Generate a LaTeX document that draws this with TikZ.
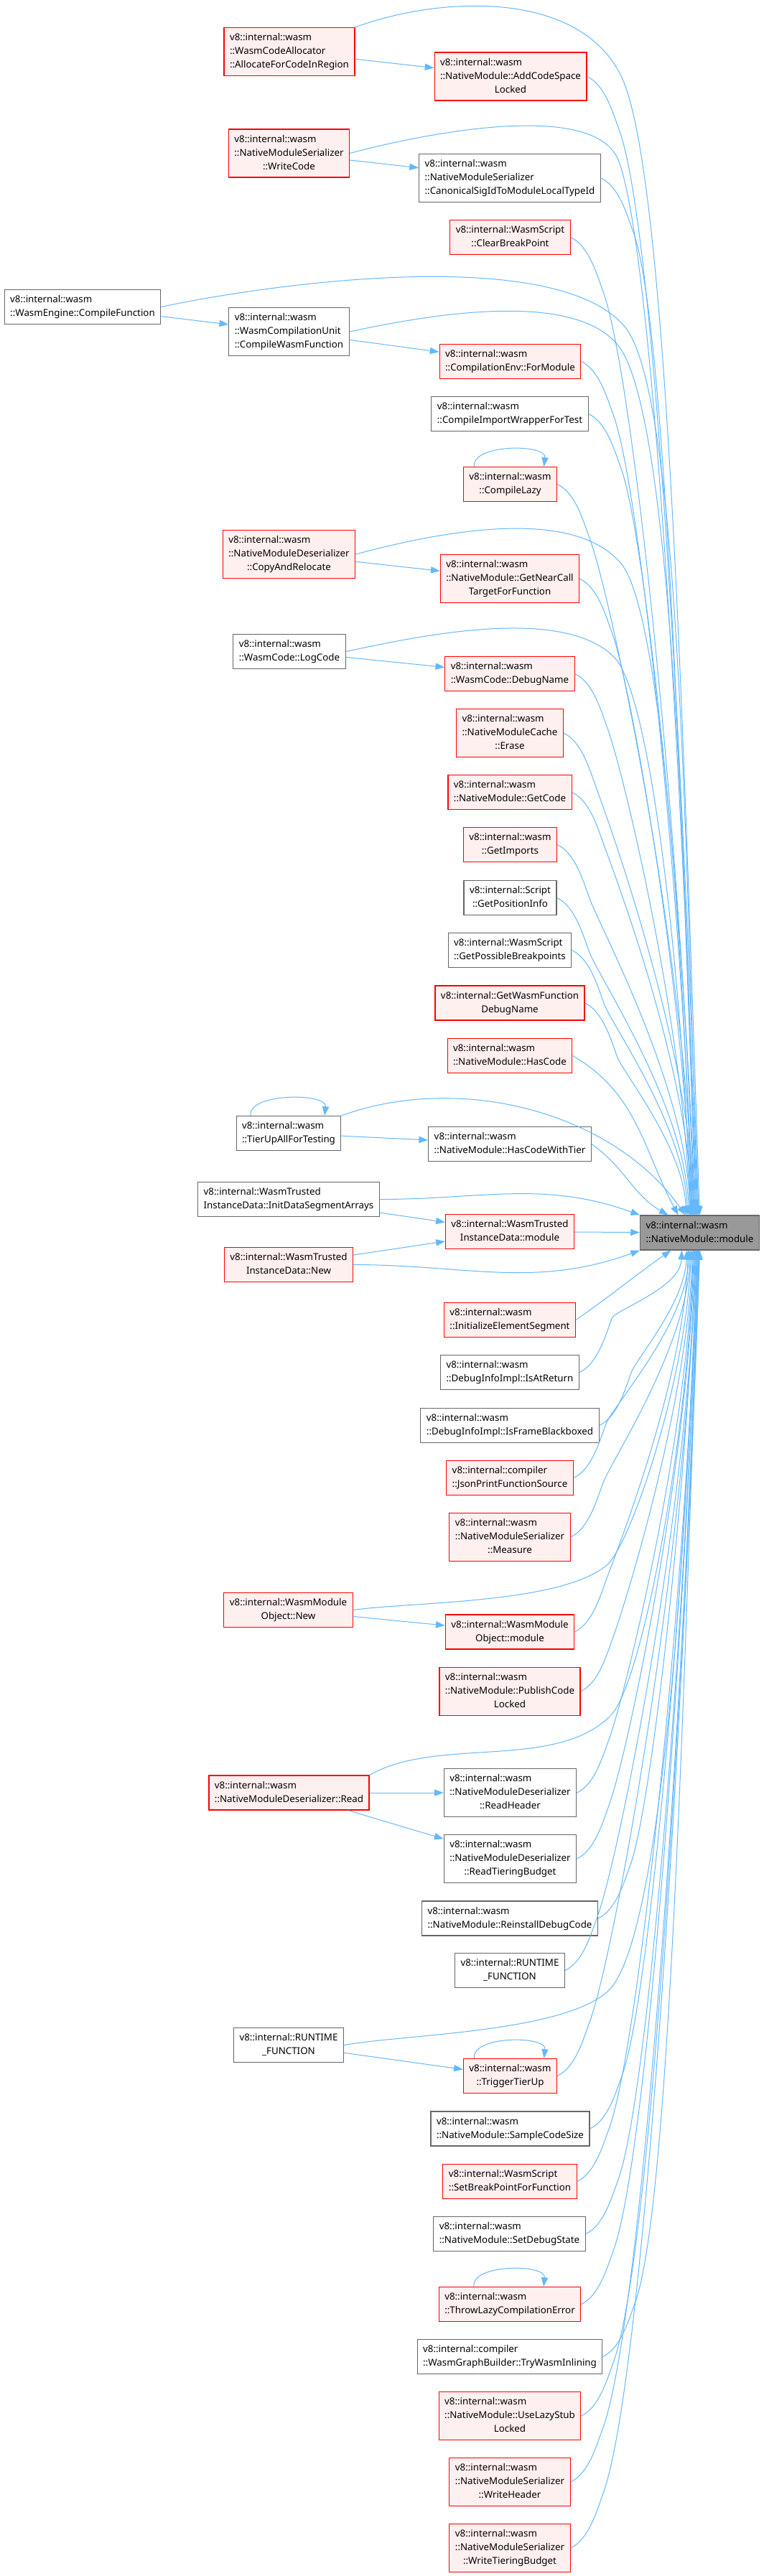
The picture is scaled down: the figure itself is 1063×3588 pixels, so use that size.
\documentclass[tikz,border=0pt]{standalone}
\usepackage{fontspec}
\newfontfamily\callfont{Noto Sans}
\usetikzlibrary{arrows.meta}
\definecolor{callblue}{HTML}{63B8FF}
\definecolor{redfill}{HTML}{FFF0F0}
\definecolor{boxgray}{HTML}{666666}
\definecolor{mainfill}{HTML}{999999}
% left aligned lines, last line centred
\newcommand{\fnlbl}[2]{\begin{tabular}{@{}l@{}}#1\\\multicolumn{1}{@{}c@{}}{#2}\end{tabular}}

\begin{document}
\begin{tikzpicture}[x=0.25pt, y=0.25pt,
		fnbox/.style={rectangle, inner xsep=2pt, inner ysep=1.25pt, line width=0.28pt, font={\callfont\fontsize{3.33}{4.75}\selectfont}},
		redfn/.style={fnbox, draw=red, fill=redfill},
		grayfn/.style={fnbox, draw=boxgray, fill=white},
		mainfn/.style={fnbox, draw=boxgray, fill=mainfill},
		callline/.style={draw=callblue, line width=0.25pt, -{Triangle[length=3.2pt, width=2.3pt]}},
		drop/.style={out=#1, in=92, out looseness=0.25, in looseness=1},
		climb/.style={out=#1, in=-92, out looseness=0.25, in looseness=1},
	]
	\path[use as bounding box, fill=white] (0,0) rectangle (1063,-3588);

	% called function
	\node[mainfn] (mainnode) at (974.5,-1717) {\fnlbl{v8::internal::wasm}{::NativeModule::module}};

	% callers, left columns
	\node[redfn] (allocregion) at (403,-72) {\fnlbl{v8::internal::wasm\\::WasmCodeAllocator}{::AllocateForCodeInRegion}};
	\node[redfn] (writecode) at (402.5,-213.5) {\fnlbl{v8::internal::wasm\\::NativeModuleSerializer}{::WriteCode}};
	\node[grayfn] (compilefn) at (115,-427.5) {\fnlbl{v8::internal::wasm}{::WasmEngine::CompileFunction}};
	\node[grayfn] (wasmcompile) at (402.5,-462) {\fnlbl{v8::internal::wasm\\::WasmCompilationUnit}{::CompileWasmFunction}};
	\node[redfn] (copyreloc) at (402.5,-772) {\fnlbl{v8::internal::wasm\\::NativeModuleDeserializer}{::CopyAndRelocate}};
	\node[grayfn] (logcode) at (403,-907.5) {\fnlbl{v8::internal::wasm}{::WasmCode::LogCode}};
	\node[grayfn] (tierupall) at (402,-1578.5) {\fnlbl{v8::internal::wasm}{::TierUpAllForTesting}};
	\node[grayfn] (initdata) at (402,-1670.5) {\fnlbl{v8::internal::WasmTrusted}{InstanceData::InitDataSegmentArrays}};
	\node[redfn] (wtidnew) at (402,-1761.5) {\fnlbl{v8::internal::WasmTrusted}{InstanceData::New}};
	\node[redfn] (wmonew) at (401.5,-2242.5) {\fnlbl{v8::internal::WasmModule}{Object::New}};
	\node[redfn] (nmdread) at (402.5,-2497) {\fnlbl{v8::internal::wasm}{::NativeModuleDeserializer::Read}};
	\node[grayfn] (runtimeleft) at (402,-2848.5) {\fnlbl{v8::internal::RUNTIME}{\_FUNCTION}};

	% callers, middle column
	\node[redfn] (addcodespace) at (711,-106.5) {\fnlbl{v8::internal::wasm\\::NativeModule::AddCodeSpace}{Locked}};
	\node[grayfn] (canonsig) at (710,-248) {\fnlbl{v8::internal::wasm\\::NativeModuleSerializer}{::CanonicalSigIdToModuleLocalTypeId}};
	\node[redfn] (clearbp) at (710.5,-330.5) {\fnlbl{v8::internal::WasmScript}{::ClearBreakPoint}};
	\node[redfn] (formodule) at (710.5,-503.5) {\fnlbl{v8::internal::wasm}{::CompilationEnv::ForModule}};
	\node[grayfn] (importwrapper) at (710,-576.5) {\fnlbl{v8::internal::wasm}{::CompileImportWrapperForTest}};
	\node[redfn] (compilelazy) at (710.5,-674.5) {\fnlbl{v8::internal::wasm}{::CompileLazy}};
	\node[redfn] (nearcall) at (710,-806) {\fnlbl{v8::internal::wasm\\::NativeModule::GetNearCall}{TargetForFunction}};
	\node[redfn] (debugname) at (710,-938.5) {\fnlbl{v8::internal::wasm}{::WasmCode::DebugName}};
	\node[redfn] (cacheerase) at (710,-1021) {\fnlbl{v8::internal::wasm\\::NativeModuleCache}{::Erase}};
	\node[redfn] (getcode) at (710,-1103.5) {\fnlbl{v8::internal::wasm}{::NativeModule::GetCode}};
	\node[redfn] (getimports) at (710.5,-1176.5) {\fnlbl{v8::internal::wasm}{::GetImports}};
	\node[grayfn] (positioninfo) at (710.5,-1250.5) {\fnlbl{v8::internal::Script}{::GetPositionInfo}};
	\node[grayfn] (possiblebp) at (710,-1323.5) {\fnlbl{v8::internal::WasmScript}{::GetPossibleBreakpoints}};
	\node[redfn] (fndebugname) at (710,-1397) {\fnlbl{v8::internal::GetWasmFunction}{DebugName}};
	\node[redfn] (hascode) at (710,-1470.5) {\fnlbl{v8::internal::wasm}{::NativeModule::HasCode}};
	\node[grayfn] (hascodetier) at (710,-1593.5) {\fnlbl{v8::internal::wasm}{::NativeModule::HasCodeWithTier}};
	\node[redfn] (wtidmodule) at (710,-1715.5) {\fnlbl{v8::internal::WasmTrusted}{InstanceData::module}};
	\node[redfn] (initelem) at (710,-1838.5) {\fnlbl{v8::internal::wasm}{::InitializeElementSegment}};
	\node[grayfn] (isatreturn) at (710,-1911.5) {\fnlbl{v8::internal::wasm}{::DebugInfoImpl::IsAtReturn}};
	\node[grayfn] (blackboxed) at (710,-1985.5) {\fnlbl{v8::internal::wasm}{::DebugInfoImpl::IsFrameBlackboxed}};
	\node[redfn] (jsonsrc) at (710,-2058.5) {\fnlbl{v8::internal::compiler}{::JsonPrintFunctionSource}};
	\node[redfn] (measure) at (710,-2141) {\fnlbl{v8::internal::wasm\\::NativeModuleSerializer}{::Measure}};
	\node[redfn] (wmomodule) at (710,-2273) {\fnlbl{v8::internal::WasmModule}{Object::module}};
	\node[redfn] (publishcode) at (710,-2356) {\fnlbl{v8::internal::wasm\\::NativeModule::PublishCode}{Locked}};
	\node[grayfn] (readheader) at (710.5,-2497) {\fnlbl{v8::internal::wasm\\::NativeModuleDeserializer}{::ReadHeader}};
	\node[grayfn] (readbudget) at (710.5,-2589) {\fnlbl{v8::internal::wasm\\::NativeModuleDeserializer}{::ReadTieringBudget}};
	\node[grayfn] (reinstall) at (710,-2672) {\fnlbl{v8::internal::wasm}{::NativeModule::ReinstallDebugCode}};
	\node[grayfn] (runtimeright) at (710,-2744.5) {\fnlbl{v8::internal::RUNTIME}{\_FUNCTION}};
	\node[redfn] (triggertierup) at (710.5,-2891.5) {\fnlbl{v8::internal::wasm}{::TriggerTierUp}};
	\node[grayfn] (samplesize) at (710.5,-2965) {\fnlbl{v8::internal::wasm}{::NativeModule::SampleCodeSize}};
	\node[redfn] (setbp) at (710,-3038.5) {\fnlbl{v8::internal::WasmScript}{::SetBreakPointForFunction}};
	\node[grayfn] (setdebug) at (709.5,-3111.5) {\fnlbl{v8::internal::wasm}{::NativeModule::SetDebugState}};
	\node[redfn] (throwlazy) at (710,-3209.5) {\fnlbl{v8::internal::wasm}{::ThrowLazyCompilationError}};
	\node[grayfn] (trywasm) at (710,-3282.5) {\fnlbl{v8::internal::compiler}{::WasmGraphBuilder::TryWasmInlining}};
	\node[redfn] (uselazystub) at (710,-3365) {\fnlbl{v8::internal::wasm\\::NativeModule::UseLazyStub}{Locked}};
	\node[redfn] (writeheader) at (710,-3457) {\fnlbl{v8::internal::wasm\\::NativeModuleSerializer}{::WriteHeader}};
	\node[redfn] (writebudget) at (710,-3549) {\fnlbl{v8::internal::wasm\\::NativeModuleSerializer}{::WriteTieringBudget}};

	% short calls between callers
	\draw[callline] (allocregion) -- (addcodespace);
	\draw[callline] (writecode) -- (canonsig);
	\draw[callline] (compilefn) -- (wasmcompile);
	\draw[callline] (wasmcompile) -- (formodule);
	\draw[callline] (copyreloc) -- (nearcall);
	\draw[callline] (logcode) -- (debugname);
	\draw[callline] (tierupall) -- (hascodetier);
	\draw[callline] (initdata) -- (wtidmodule);
	\draw[callline] (wtidnew) -- (wtidmodule);
	\draw[callline] (wtidmodule) -- (mainnode);
	\draw[callline] (wmonew) -- (wmomodule);
	\draw[callline] (nmdread) -- (readheader);
	\draw[callline] (nmdread) -- (readbudget);
	\draw[callline] (runtimeleft) -- (triggertierup);

	% recursive calls
	\draw[callline] ([shift={(-50,0)}]compilelazy.north) .. controls +(-4,32) and +(4,32) .. ([shift={(47,0)}]compilelazy.north);
	\draw[callline] ([shift={(-53,0)}]tierupall.north) .. controls +(-4,32) and +(4,32) .. ([shift={(50,0)}]tierupall.north);
	\draw[callline] ([shift={(-50,0)}]triggertierup.north) .. controls +(-4,32) and +(4,32) .. ([shift={(47,0)}]triggertierup.north);
	\draw[callline] ([shift={(-50,0)}]throwlazy.north) .. controls +(-4,32) and +(4,32) .. ([shift={(47,0)}]throwlazy.north);

	% long calls from above
	\draw[callline] (allocregion.north east) to[out=20,in=115,looseness=0.9] (866,-108) to[drop=-65] (mainnode.north);
	\draw[callline] (writecode.east) to[out=15,in=110,looseness=0.65] (862,-225) to[drop=-70] ([shift={(-3.5,0)}]mainnode.north);
	\draw[callline] (compilefn.east) to[out=12,in=130,looseness=0.6] (870,-455) to[drop=-50] ([shift={(-2.5,0)}]mainnode.north);
	\draw[callline] (wasmcompile.east) to[out=12,in=130,looseness=0.7] (860,-480) to[drop=-50] ([shift={(-4.5,0)}]mainnode.north);
	\draw[callline] (copyreloc.east) to[out=15,in=130,looseness=0.75] (865,-785) to[drop=-50] ([shift={(-10.5,0)}]mainnode.north);
	\draw[callline] (logcode.east) to[out=12,in=135,looseness=0.7] (855,-915) to[drop=-45] ([shift={(-12.5,0)}]mainnode.north);
	\draw[callline] (tierupall.north east) to[out=20,in=125,looseness=0.9] ([shift={(-20,0)}]mainnode.north);

	\draw[callline] (addcodespace.east) to[out=-25,in=110,looseness=0.8] ++(45,-75) to[drop=-70] ([shift={(-1.5,0)}]mainnode.north);
	\draw[callline] (canonsig.east) to[out=-25,in=110,looseness=0.8] ++(45,-75) to[drop=-70] ([shift={(-5.5,0)}]mainnode.north);
	\draw[callline] (clearbp.east) to[out=-25,in=110,looseness=0.8] ++(45,-75) to[drop=-70] ([shift={(-7.5,0)}]mainnode.north);
	\draw[callline] (formodule.east) to[out=-25,in=110,looseness=0.8] ++(45,-75) to[drop=-70] ([shift={(-9.5,0)}]mainnode.north);
	\draw[callline] (importwrapper.east) to[out=-25,in=110,looseness=0.8] ++(45,-75) to[drop=-70] ([shift={(-6.5,0)}]mainnode.north);
	\draw[callline] (compilelazy.east) to[out=-25,in=110,looseness=0.8] ++(45,-75) to[drop=-70] ([shift={(-8.5,0)}]mainnode.north);
	\draw[callline] (nearcall.east) to[out=-25,in=110,looseness=0.8] ++(45,-75) to[drop=-70] ([shift={(-11.5,0)}]mainnode.north);
	\draw[callline] (debugname.east) to[out=-25,in=110,looseness=0.8] ++(45,-75) to[drop=-70] ([shift={(-13.5,0)}]mainnode.north);
	\draw[callline] (cacheerase.east) to[out=-25,in=110,looseness=0.8] ++(45,-75) to[drop=-70] ([shift={(-7,0)}]mainnode.north);
	\draw[callline] (getcode.east) to[out=-25,in=110,looseness=0.8] ++(45,-75) to[drop=-70] ([shift={(-10,0)}]mainnode.north);
	\draw[callline] (getimports.east) to[out=-25,in=110,looseness=0.8] ++(45,-75) to[drop=-70] ([shift={(-13,0)}]mainnode.north);
	\draw[callline] (positioninfo.east) to[out=-25,in=110,looseness=0.8] ++(45,-75) to[drop=-70] ([shift={(-15,0)}]mainnode.north);
	\draw[callline] (possiblebp.east) to[out=-25,in=110,looseness=0.8] ++(45,-75) to[drop=-70] ([shift={(-17,0)}]mainnode.north);
	\draw[callline] (fndebugname.east) to[out=-25,in=110,looseness=0.8] ++(45,-75) to[drop=-70] ([shift={(-19,0)}]mainnode.north);
	\draw[callline] (hascode.east) to[out=-30,in=118] ([shift={(-30,0)}]mainnode.north);
	\draw[callline] (hascodetier.east) to[out=-35,in=150] ([shift={(-44,0)}]mainnode.north);

	% calls from beside
	\draw[callline] (initdata.east) to[out=0,in=160] (mainnode.north west);
	\draw[callline] (wtidnew.east) to[out=0,in=-160] (mainnode.south west);

	% long calls from below
	\draw[callline] (wmonew.east) to[out=8,in=-140,looseness=0.6] (845,-2180) to[climb=40] ([shift={(-12,0)}]mainnode.south);
	\draw[callline] (nmdread.north east) to[out=30,in=-135,looseness=0.8] (850,-2390) to[climb=45] ([shift={(-8,0)}]mainnode.south);
	\draw[callline] (runtimeleft.east) to[out=10,in=-140,looseness=0.6] (845,-2775) to[climb=40] ([shift={(-4,0)}]mainnode.south);

	\draw[callline] (initelem.east) to[out=35,in=-145] ([shift={(-40,0)}]mainnode.south);
	\draw[callline] (isatreturn.east) to[out=25,in=-110,looseness=0.8] ++(45,75) to[climb=70] ([shift={(-25,0)}]mainnode.south);
	\draw[callline] (blackboxed.east) to[out=25,in=-110,looseness=0.8] ++(45,75) to[climb=70] ([shift={(-18,0)}]mainnode.south);
	\draw[callline] (jsonsrc.east) to[out=25,in=-110,looseness=0.8] ++(45,75) to[climb=70] ([shift={(-15,0)}]mainnode.south);
	\draw[callline] (measure.east) to[out=25,in=-110,looseness=0.8] ++(45,75) to[climb=70] ([shift={(-13,0)}]mainnode.south);
	\draw[callline] (wmomodule.east) to[out=25,in=-110,looseness=0.8] ++(45,75) to[climb=70] ([shift={(-16,0)}]mainnode.south);
	\draw[callline] (publishcode.east) to[out=25,in=-110,looseness=0.8] ++(45,75) to[climb=70] ([shift={(-10,0)}]mainnode.south);
	\draw[callline] (readheader.east) to[out=25,in=-110,looseness=0.8] ++(45,75) to[climb=70] ([shift={(-9,0)}]mainnode.south);
	\draw[callline] (readbudget.east) to[out=25,in=-110,looseness=0.8] ++(45,75) to[climb=70] ([shift={(-7,0)}]mainnode.south);
	\draw[callline] (reinstall.east) to[out=25,in=-110,looseness=0.8] ++(45,75) to[climb=70] ([shift={(-6,0)}]mainnode.south);
	\draw[callline] (runtimeright.east) to[out=25,in=-110,looseness=0.8] ++(45,75) to[climb=70] ([shift={(-5,0)}]mainnode.south);
	\draw[callline] (triggertierup.east) to[out=25,in=-110,looseness=0.8] ++(45,75) to[climb=70] ([shift={(-5,0)}]mainnode.south);
	\draw[callline] (samplesize.east) to[out=25,in=-110,looseness=0.8] ++(45,75) to[climb=70] ([shift={(-3,0)}]mainnode.south);
	\draw[callline] (setbp.east) to[out=25,in=-110,looseness=0.8] ++(45,75) to[climb=70] ([shift={(-3,0)}]mainnode.south);
	\draw[callline] (setdebug.east) to[out=25,in=-110,looseness=0.8] ++(45,75) to[climb=70] ([shift={(-2,0)}]mainnode.south);
	\draw[callline] (throwlazy.east) to[out=25,in=-110,looseness=0.8] ++(45,75) to[climb=70] ([shift={(-2,0)}]mainnode.south);
	\draw[callline] (trywasm.east) to[out=25,in=-110,looseness=0.8] ++(45,75) to[climb=70] ([shift={(-1,0)}]mainnode.south);
	\draw[callline] (uselazystub.east) to[out=25,in=-110,looseness=0.8] ++(45,75) to[climb=70] ([shift={(-1,0)}]mainnode.south);
	\draw[callline] (writeheader.east) to[out=25,in=-110,looseness=0.8] ++(45,75) to[climb=70] (mainnode.south);
	\draw[callline] (writebudget.east) to[out=25,in=-110,looseness=0.8] ++(45,75) to[climb=70] (mainnode.south);
\end{tikzpicture}
\end{document}
